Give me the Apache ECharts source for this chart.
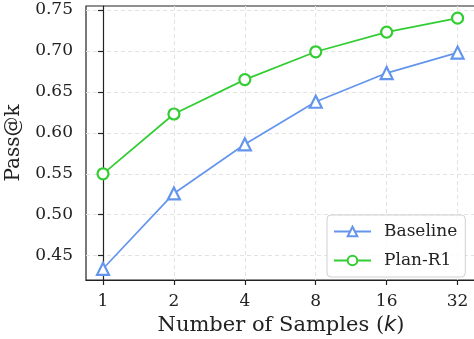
<!DOCTYPE html>
<html><head><meta charset="utf-8">
<script src="https://cdn.jsdelivr.net/npm/echarts@6/dist/echarts.min.js"></script>
<style>html,body{margin:0;padding:0;background:#fff}#c{width:474px;height:339px}</style>
</head><body><div id="c"></div>
<script>
const kLabels = ['1','2','4','8','16','32'];
const baseline = [0.434, 0.526, 0.586, 0.638, 0.673, 0.698];
const planR1 = [0.550, 0.623, 0.665, 0.699, 0.723, 0.740];
const yTicks = [0.45, 0.50, 0.55, 0.60, 0.65, 0.70, 0.75];

const idx = kLabels.map((_, i) => i);
const toPts = arr => arr.map((v, i) => [i, v]);
const serif = 'DejaVu Serif';
const chart = echarts.init(document.getElementById('c'), null, {renderer: 'canvas'});
chart.setOption({
  animation: false,
  backgroundColor: '#fff',
  grid: {left: 86, top: 6, right: -2, bottom: 59, containLabel: false, outerBoundsMode: 'none',
    show: true, borderColor: '#222', borderWidth: 1.2, backgroundColor: 'transparent'},
  xAxis: {
    type: 'value', min: -0.24, max: 5.26,
    axisLine: {lineStyle: {color: '#222', width: 1.2}},
    axisTick: {show: true, length: 5, customValues: idx, lineStyle: {color: '#222', width: 1.2}},
    axisLabel: {customValues: idx, margin: 13, color: '#222', fontFamily: serif, fontSize: 17,
      formatter: v => kLabels[Math.round(v)]},
    splitLine: {show: true, lineStyle: {color: '#e3e3e3', type: [4, 3], width: 1}},
    name: '{a|Number of Samples (}{i|k}{a|)}', nameLocation: 'middle', nameGap: 35,
    nameTextStyle: {rich: {a: {fontFamily: serif, fontSize: 21, color: '#222'}, i: {fontFamily: 'DejaVu Sans', fontStyle: 'italic', fontSize: 21, color: '#222'}}}
  },
  yAxis: {
    type: 'value', min: 0.4203, max: 0.7549,
    axisLine: {show: true, lineStyle: {color: '#222', width: 1.2}},
    axisTick: {show: true, length: 5, customValues: yTicks, lineStyle: {color: '#222', width: 1.2}},
    axisLabel: {customValues: yTicks, margin: 13, color: '#222', fontFamily: serif, fontSize: 17,
      formatter: v => v.toFixed(2)},
    splitLine: {show: true, lineStyle: {color: '#e3e3e3', type: [4, 3], width: 1}},
    name: 'Pass@k', nameLocation: 'middle', nameGap: 58,
    nameTextStyle: {fontFamily: serif, fontSize: 20, color: '#222'}
  },
  legend: {
    orient: 'vertical', left: 327, top: 215, padding: [8, 8, 8, 6], itemGap: 12,
    itemWidth: 37, itemHeight: 12,
    backgroundColor: 'rgba(255,255,255,0.85)', borderColor: '#d0d0d0', borderWidth: 1, borderRadius: 4,
    textStyle: {fontFamily: serif, fontSize: 17, color: '#222', padding: [0, 0, 0, 8]},
    data: ['Baseline', 'Plan-R1']
  },
  series: [
    {name: 'Baseline', type: 'line', data: toPts(baseline), symbol: 'triangle', symbolSize: 12,
      color: '#6495ED', lineStyle: {width: 1.7, color: '#6495ED'},
      itemStyle: {color: '#fff', borderColor: '#6495ED', borderWidth: 2.2}},
    {name: 'Plan-R1', type: 'line', data: toPts(planR1), symbol: 'circle', symbolSize: 11,
      color: '#32CD32', lineStyle: {width: 1.7, color: '#32CD32'},
      itemStyle: {color: '#fff', borderColor: '#32CD32', borderWidth: 2.2}}
  ]
});
</script></body></html>
